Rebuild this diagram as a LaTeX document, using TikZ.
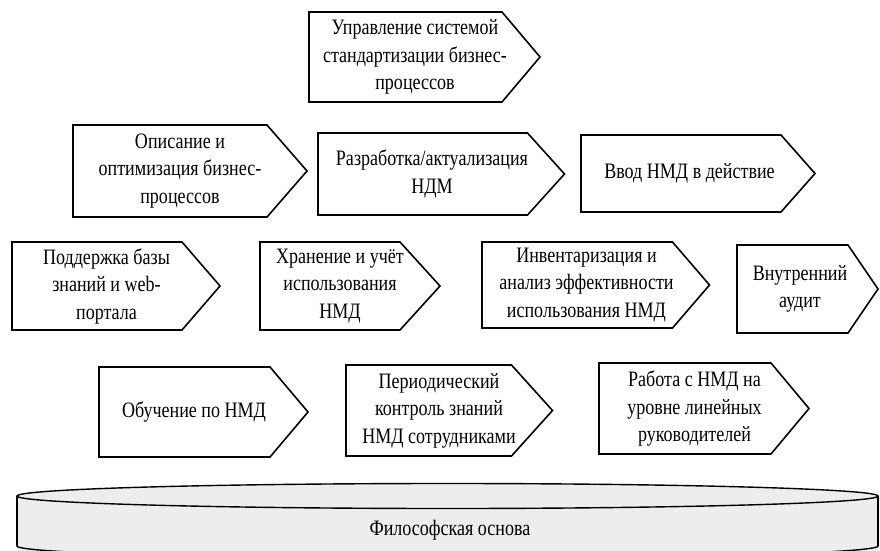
\documentclass[tikz,border=0pt]{standalone}
\usepackage{fontspec}
\setmainfont[FakeStretch=0.82]{Liberation Serif}
\usepackage{tikz}
\usetikzlibrary{calc}
\definecolor{baseGray}{HTML}{EDEDED}
\newcommand{\boxfont}{\fontsize{22}{27.5}\selectfont}

\begin{document}
\begin{tikzpicture}[
  x=1pt, y=-1pt,
  stagebox/.style={align=center, inner sep=2pt, outer sep=0pt, font=\boxfont},
  stageline/.style={draw=black, line width=1.6pt, line join=miter},
  baseline line/.style={draw=black, line width=1.4pt}
]
  \useasboundingbox (0,0) rectangle (880,551);

  % top
  \node[stagebox, minimum width=212pt, minimum height=90pt] (upr) at (415,57) {Управление системой\\стандартизации бизнес-\\процессов};
  % second row
  \node[stagebox, minimum width=214pt, minimum height=92pt] (opis) at (180,171) {Описание и\\оптимизация бизнес-\\процессов};
  \node[stagebox, minimum width=228pt, minimum height=82pt] (razr) at (432,174) {Разработка/актуализация\\НДМ};
  \node[stagebox, minimum width=217pt, minimum height=77pt] (vvod) at (689.5,173.5) {Ввод НМД в действие};
  % third row
  \node[stagebox, minimum width=189pt, minimum height=88pt] (podd) at (106.5,286) {Поддержка базы\\знаний и web-\\портала};
  \node[stagebox, minimum width=160pt, minimum height=88pt] (hran) at (340,286) {Хранение и учёт\\использования\\НМД};
  \node[stagebox, minimum width=209pt, minimum height=86pt] (inv) at (586.5,285) {Инвентаризация и\\анализ эффективности\\использования НМД};
  \node[stagebox, minimum width=126pt, minimum height=88pt] (vnut) at (800,289) {Внутренний\\аудит};
  % fourth row
  \node[stagebox, minimum width=190pt, minimum height=90pt] (obuch) at (194,412) {Обучение по НМД};
  \node[stagebox, minimum width=186pt, minimum height=91pt] (period) at (439,410.5) {Периодический\\контроль знаний\\НМД сотрудниками};
  \node[stagebox, minimum width=191pt, minimum height=91pt] (rabota) at (694.5,408.5) {Работа с НМД на\\уровне линейных\\руководителей};

  \foreach \n/\h in {upr/19, opis/20, razr/18.5, vvod/17, podd/19, hran/20,
                     inv/18.5, vnut/15, obuch/19, period/20.5, rabota/19}
    \draw[stageline] (\n.north west) -- ([xshift=-\h pt]\n.north east)
      -- ([xshift=\h pt]\n.east) -- ([xshift=-\h pt]\n.south east)
      -- (\n.south west) -- cycle;

  % base
  \begin{scope}
    \clip (0,0) rectangle (880,551);
    \fill[baseGray] (17,496) rectangle (878,560);
    \draw[baseline line] (17,496) -- (17,546);
    \draw[baseline line] (878,496) -- (878,546);
    \begin{scope}
      \clip (0,546) rectangle (880,560);
      \draw[baseline line] (447.5,546) ellipse [x radius=430.5, y radius=12.5];
    \end{scope}
    \draw[baseline line, fill=baseGray] (447.5,496) ellipse [x radius=430.5, y radius=12.5];
  \end{scope}
  \node[font=\boxfont] (base) at (450,530) {Философская основа};
\end{tikzpicture}
\end{document}
